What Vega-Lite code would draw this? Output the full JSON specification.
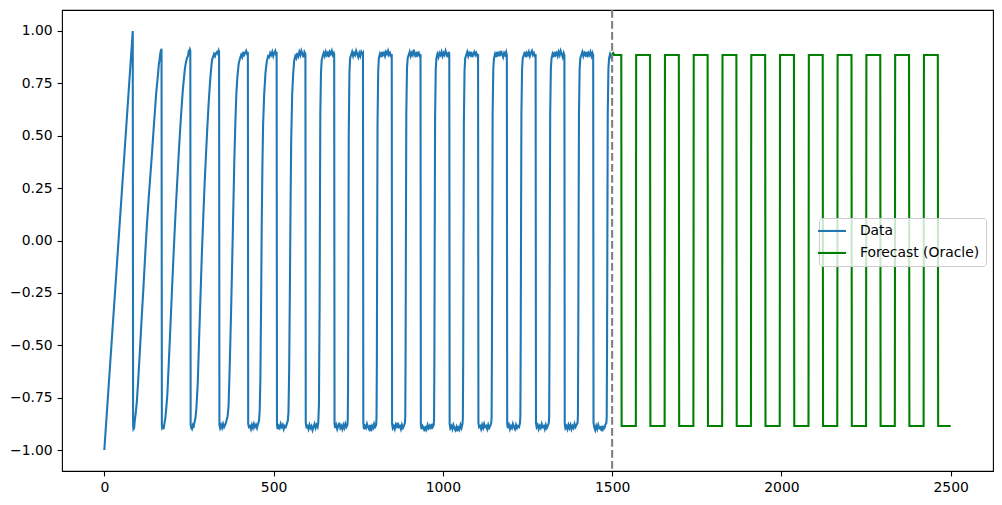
{
"$schema":"https://vega.github.io/schema/vega-lite/v6.json",
"width":931,"height":461,
"autosize":{"type":"none"},
"padding":{"left":62,"top":10,"right":9,"bottom":34},
"config":{"font":"DejaVu Sans","view":{"stroke":"#000","strokeWidth":1.1},
"axis":{"grid":false,"domain":false,"title":null,"tickColor":"#000","tickWidth":1.1,"tickSize":4.9,"labelPadding":4.9,"labelFontSize":13.9,"labelColor":"#000","labelFont":"DejaVu Sans"}},
"datasets":{
"data":[
{"x":0,"y":-1},{"x":84,"y":1},
{"x":85,"y":-0.88},{"x":86,"y":-0.9},{"x":88,"y":-0.895},{"x":90,"y":-0.86},{"x":93,"y":-0.82},{"x":96,"y":-0.77},{"x":100,"y":-0.67},{"x":105,"y":-0.53},{"x":110,"y":-0.38},{"x":115,"y":-0.24},{"x":121,"y":-0.06},{"x":126,"y":0.08},{"x":131,"y":0.2},{"x":136,"y":0.31},{"x":141,"y":0.42},{"x":146,"y":0.54},{"x":150,"y":0.63},{"x":153,"y":0.7},{"x":156,"y":0.75},{"x":159,"y":0.8},{"x":161,"y":0.84},{"x":163,"y":0.86},{"x":165,"y":0.89},{"x":167,"y":0.905},{"x":168,"y":0.91},{"x":169,"y":0.915},
{"x":170,"y":-0.88},{"x":171,"y":-0.895},{"x":173,"y":-0.89},{"x":175,"y":-0.9},{"x":177,"y":-0.88},{"x":180,"y":-0.85},{"x":183,"y":-0.8},{"x":186,"y":-0.74},{"x":190,"y":-0.6},{"x":195,"y":-0.42},{"x":200,"y":-0.23},{"x":205,"y":-0.05},{"x":210,"y":0.12},{"x":215,"y":0.27},{"x":220,"y":0.42},{"x":224,"y":0.53},{"x":228,"y":0.63},{"x":232,"y":0.72},{"x":235,"y":0.77},{"x":238,"y":0.82},{"x":241,"y":0.85},{"x":244,"y":0.87},{"x":247,"y":0.88},{"x":249,"y":0.9},{"x":251,"y":0.895},{"x":253,"y":0.91},{"x":254,"y":0.905},
{"x":255,"y":-0.88},{"x":257,"y":-0.895},{"x":259,"y":-0.9},{"x":261,"y":-0.885},{"x":263,"y":-0.895},{"x":266,"y":-0.87},{"x":269,"y":-0.85},{"x":272,"y":-0.8},{"x":276,"y":-0.68},{"x":280,"y":-0.47},{"x":284,"y":-0.27},{"x":288,"y":-0.07},{"x":292,"y":0.1},{"x":296,"y":0.26},{"x":300,"y":0.4},{"x":304,"y":0.53},{"x":308,"y":0.65},{"x":312,"y":0.75},{"x":315,"y":0.81},{"x":318,"y":0.86},{"x":321,"y":0.875},{"x":324,"y":0.89},{"x":327,"y":0.88},{"x":330,"y":0.895},{"x":333,"y":0.9},{"x":336,"y":0.89},{"x":338,"y":0.905},{"x":339,"y":0.9},
{"x":340,"y":-0.88},{"x":342,"y":-0.895},{"x":345,"y":-0.88},{"x":348,"y":-0.895},{"x":351,"y":-0.875},{"x":354,"y":-0.89},{"x":357,"y":-0.88},{"x":360,"y":-0.865},{"x":364,"y":-0.84},{"x":367,"y":-0.79},{"x":369,"y":-0.68},{"x":372,"y":-0.5},{"x":375,"y":-0.3},{"x":378,"y":-0.08},{"x":381,"y":0.15},{"x":384,"y":0.38},{"x":387,"y":0.56},{"x":390,"y":0.7},{"x":393,"y":0.78},{"x":397,"y":0.845},{"x":401,"y":0.87},{"x":404,"y":0.885},{"x":407,"y":0.875},{"x":410,"y":0.9},{"x":413,"y":0.885},{"x":416,"y":0.895},{"x":419,"y":0.905},{"x":422,"y":0.89},{"x":424,"y":0.9},
{"x":425,"y":-0.875},{"x":427,"y":-0.89},{"x":430,"y":-0.885},{"x":433,"y":-0.9},{"x":436,"y":-0.88},{"x":439,"y":-0.895},{"x":442,"y":-0.875},{"x":445,"y":-0.89},{"x":448,"y":-0.88},{"x":451,"y":-0.895},{"x":454,"y":-0.875},{"x":457,"y":-0.86},{"x":459,"y":-0.81},{"x":461,"y":-0.66},{"x":463,"y":-0.32},{"x":465,"y":0.08},{"x":467,"y":0.36},{"x":469,"y":0.55},{"x":472,"y":0.69},{"x":476,"y":0.8},{"x":480,"y":0.855},{"x":484,"y":0.88},{"x":487,"y":0.875},{"x":490,"y":0.895},{"x":493,"y":0.885},{"x":496,"y":0.9},{"x":499,"y":0.88},{"x":502,"y":0.895},{"x":505,"y":0.905},{"x":507,"y":0.89},{"x":509,"y":0.9},
{"x":510,"y":-0.88},{"x":512,"y":-0.9},{"x":515,"y":-0.885},{"x":518,"y":-0.895},{"x":521,"y":-0.875},{"x":524,"y":-0.89},{"x":527,"y":-0.88},{"x":530,"y":-0.9},{"x":533,"y":-0.885},{"x":536,"y":-0.89},{"x":539,"y":-0.875},{"x":542,"y":-0.86},{"x":544,"y":-0.82},{"x":546,"y":-0.62},{"x":548,"y":-0.25},{"x":550,"y":0.15},{"x":552,"y":0.48},{"x":555,"y":0.7},{"x":558,"y":0.8},{"x":561,"y":0.86},{"x":564,"y":0.88},{"x":567,"y":0.87},{"x":570,"y":0.895},{"x":573,"y":0.88},{"x":576,"y":0.9},{"x":579,"y":0.885},{"x":582,"y":0.905},{"x":585,"y":0.89},{"x":588,"y":0.875},{"x":591,"y":0.9},{"x":594,"y":0.89},
{"x":595,"y":-0.87},{"x":597,"y":-0.89},{"x":600,"y":-0.885},{"x":603,"y":-0.9},{"x":606,"y":-0.88},{"x":609,"y":-0.895},{"x":612,"y":-0.885},{"x":615,"y":-0.905},{"x":618,"y":-0.89},{"x":621,"y":-0.875},{"x":624,"y":-0.895},{"x":627,"y":-0.88},{"x":630,"y":-0.89},{"x":632,"y":-0.87},{"x":634,"y":-0.78},{"x":636,"y":-0.3},{"x":637,"y":0.2},{"x":638,"y":0.6},{"x":640,"y":0.8},{"x":642,"y":0.86},{"x":645,"y":0.88},{"x":648,"y":0.895},{"x":651,"y":0.88},{"x":654,"y":0.9},{"x":657,"y":0.885},{"x":660,"y":0.895},{"x":663,"y":0.875},{"x":666,"y":0.9},{"x":669,"y":0.89},{"x":672,"y":0.905},{"x":675,"y":0.885},{"x":678,"y":0.895},{"x":679,"y":0.89},
{"x":680,"y":-0.875},{"x":682,"y":-0.895},{"x":685,"y":-0.88},{"x":688,"y":-0.9},{"x":691,"y":-0.885},{"x":694,"y":-0.87},{"x":697,"y":-0.895},{"x":700,"y":-0.885},{"x":703,"y":-0.9},{"x":706,"y":-0.88},{"x":709,"y":-0.895},{"x":712,"y":-0.875},{"x":715,"y":-0.89},{"x":718,"y":-0.88},{"x":719,"y":-0.86},{"x":720,"y":-0.7},{"x":721,"y":-0.1},{"x":722,"y":0.5},{"x":724,"y":0.8},{"x":726,"y":0.87},{"x":729,"y":0.885},{"x":732,"y":0.9},{"x":735,"y":0.88},{"x":738,"y":0.895},{"x":741,"y":0.885},{"x":744,"y":0.905},{"x":747,"y":0.89},{"x":750,"y":0.875},{"x":753,"y":0.895},{"x":756,"y":0.88},{"x":759,"y":0.9},{"x":762,"y":0.89},{"x":764,"y":0.895},
{"x":765,"y":-0.87},{"x":767,"y":-0.9},{"x":770,"y":-0.885},{"x":773,"y":-0.895},{"x":776,"y":-0.875},{"x":779,"y":-0.89},{"x":782,"y":-0.9},{"x":785,"y":-0.88},{"x":788,"y":-0.91},{"x":791,"y":-0.885},{"x":794,"y":-0.895},{"x":797,"y":-0.875},{"x":800,"y":-0.89},{"x":803,"y":-0.88},{"x":804,"y":-0.85},{"x":805,"y":-0.6},{"x":806,"y":0.0},{"x":807,"y":0.55},{"x":809,"y":0.81},{"x":811,"y":0.87},{"x":814,"y":0.89},{"x":817,"y":0.875},{"x":820,"y":0.9},{"x":823,"y":0.885},{"x":826,"y":0.895},{"x":829,"y":0.88},{"x":832,"y":0.9},{"x":835,"y":0.89},{"x":838,"y":0.905},{"x":841,"y":0.885},{"x":844,"y":0.895},{"x":847,"y":0.88},{"x":849,"y":0.89},
{"x":850,"y":-0.875},{"x":852,"y":-0.895},{"x":855,"y":-0.885},{"x":858,"y":-0.9},{"x":861,"y":-0.88},{"x":864,"y":-0.895},{"x":867,"y":-0.87},{"x":870,"y":-0.89},{"x":873,"y":-0.885},{"x":876,"y":-0.9},{"x":879,"y":-0.88},{"x":882,"y":-0.895},{"x":885,"y":-0.885},{"x":888,"y":-0.87},{"x":889,"y":-0.84},{"x":890,"y":-0.5},{"x":891,"y":0.1},{"x":892,"y":0.6},{"x":894,"y":0.82},{"x":896,"y":0.87},{"x":899,"y":0.885},{"x":902,"y":0.9},{"x":905,"y":0.88},{"x":908,"y":0.895},{"x":911,"y":0.885},{"x":914,"y":0.91},{"x":917,"y":0.89},{"x":920,"y":0.875},{"x":923,"y":0.9},{"x":926,"y":0.885},{"x":929,"y":0.895},{"x":932,"y":0.88},{"x":934,"y":0.89},
{"x":935,"y":-0.88},{"x":937,"y":-0.9},{"x":940,"y":-0.885},{"x":943,"y":-0.895},{"x":946,"y":-0.91},{"x":949,"y":-0.885},{"x":952,"y":-0.9},{"x":955,"y":-0.88},{"x":958,"y":-0.895},{"x":961,"y":-0.885},{"x":964,"y":-0.9},{"x":967,"y":-0.875},{"x":970,"y":-0.89},{"x":973,"y":-0.88},{"x":974,"y":-0.85},{"x":975,"y":-0.55},{"x":976,"y":0.05},{"x":977,"y":0.58},{"x":979,"y":0.82},{"x":981,"y":0.87},{"x":984,"y":0.89},{"x":987,"y":0.875},{"x":990,"y":0.895},{"x":993,"y":0.885},{"x":996,"y":0.9},{"x":999,"y":0.88},{"x":1002,"y":0.895},{"x":1005,"y":0.885},{"x":1008,"y":0.905},{"x":1011,"y":0.89},{"x":1014,"y":0.875},{"x":1017,"y":0.9},{"x":1019,"y":0.89},
{"x":1020,"y":-0.875},{"x":1022,"y":-0.895},{"x":1025,"y":-0.885},{"x":1028,"y":-0.9},{"x":1031,"y":-0.88},{"x":1034,"y":-0.895},{"x":1037,"y":-0.905},{"x":1040,"y":-0.89},{"x":1043,"y":-0.91},{"x":1046,"y":-0.885},{"x":1049,"y":-0.9},{"x":1052,"y":-0.88},{"x":1055,"y":-0.895},{"x":1058,"y":-0.875},{"x":1059,"y":-0.85},{"x":1060,"y":-0.6},{"x":1061,"y":0.0},{"x":1062,"y":0.55},{"x":1064,"y":0.81},{"x":1066,"y":0.87},{"x":1069,"y":0.885},{"x":1072,"y":0.9},{"x":1075,"y":0.88},{"x":1078,"y":0.895},{"x":1081,"y":0.885},{"x":1084,"y":0.9},{"x":1087,"y":0.875},{"x":1090,"y":0.89},{"x":1093,"y":0.9},{"x":1096,"y":0.885},{"x":1099,"y":0.895},{"x":1102,"y":0.88},{"x":1104,"y":0.89},
{"x":1105,"y":-0.87},{"x":1107,"y":-0.89},{"x":1110,"y":-0.885},{"x":1113,"y":-0.9},{"x":1116,"y":-0.88},{"x":1119,"y":-0.895},{"x":1122,"y":-0.875},{"x":1125,"y":-0.89},{"x":1128,"y":-0.885},{"x":1131,"y":-0.9},{"x":1134,"y":-0.88},{"x":1137,"y":-0.895},{"x":1140,"y":-0.885},{"x":1143,"y":-0.87},{"x":1144,"y":-0.84},{"x":1145,"y":-0.5},{"x":1146,"y":0.05},{"x":1147,"y":0.6},{"x":1149,"y":0.82},{"x":1151,"y":0.87},{"x":1154,"y":0.89},{"x":1157,"y":0.875},{"x":1160,"y":0.9},{"x":1163,"y":0.885},{"x":1166,"y":0.895},{"x":1169,"y":0.88},{"x":1172,"y":0.905},{"x":1175,"y":0.89},{"x":1178,"y":0.875},{"x":1181,"y":0.895},{"x":1184,"y":0.885},{"x":1187,"y":0.9},{"x":1189,"y":0.885},
{"x":1190,"y":-0.875},{"x":1192,"y":-0.895},{"x":1195,"y":-0.88},{"x":1198,"y":-0.9},{"x":1201,"y":-0.885},{"x":1204,"y":-0.895},{"x":1207,"y":-0.875},{"x":1210,"y":-0.89},{"x":1213,"y":-0.9},{"x":1216,"y":-0.88},{"x":1219,"y":-0.895},{"x":1222,"y":-0.885},{"x":1225,"y":-0.89},{"x":1228,"y":-0.87},{"x":1229,"y":-0.83},{"x":1230,"y":-0.45},{"x":1231,"y":0.1},{"x":1232,"y":0.6},{"x":1234,"y":0.82},{"x":1236,"y":0.87},{"x":1239,"y":0.885},{"x":1242,"y":0.9},{"x":1245,"y":0.875},{"x":1248,"y":0.895},{"x":1251,"y":0.885},{"x":1254,"y":0.9},{"x":1257,"y":0.88},{"x":1260,"y":0.895},{"x":1263,"y":0.905},{"x":1266,"y":0.885},{"x":1269,"y":0.895},{"x":1272,"y":0.88},{"x":1274,"y":0.89},
{"x":1275,"y":-0.87},{"x":1277,"y":-0.89},{"x":1280,"y":-0.88},{"x":1283,"y":-0.9},{"x":1286,"y":-0.885},{"x":1289,"y":-0.895},{"x":1292,"y":-0.875},{"x":1295,"y":-0.89},{"x":1298,"y":-0.885},{"x":1301,"y":-0.9},{"x":1304,"y":-0.88},{"x":1307,"y":-0.895},{"x":1310,"y":-0.885},{"x":1313,"y":-0.87},{"x":1314,"y":-0.84},{"x":1315,"y":-0.5},{"x":1316,"y":0.05},{"x":1317,"y":0.6},{"x":1319,"y":0.82},{"x":1321,"y":0.87},{"x":1324,"y":0.89},{"x":1327,"y":0.875},{"x":1330,"y":0.9},{"x":1333,"y":0.885},{"x":1336,"y":0.895},{"x":1339,"y":0.88},{"x":1342,"y":0.9},{"x":1345,"y":0.885},{"x":1348,"y":0.905},{"x":1351,"y":0.89},{"x":1354,"y":0.875},{"x":1357,"y":0.895},{"x":1359,"y":0.885},
{"x":1360,"y":-0.875},{"x":1362,"y":-0.895},{"x":1365,"y":-0.885},{"x":1368,"y":-0.9},{"x":1371,"y":-0.88},{"x":1374,"y":-0.895},{"x":1377,"y":-0.88},{"x":1380,"y":-0.9},{"x":1383,"y":-0.885},{"x":1386,"y":-0.895},{"x":1389,"y":-0.875},{"x":1392,"y":-0.89},{"x":1395,"y":-0.88},{"x":1398,"y":-0.87},{"x":1399,"y":-0.83},{"x":1400,"y":-0.45},{"x":1401,"y":0.1},{"x":1402,"y":0.6},{"x":1404,"y":0.82},{"x":1406,"y":0.87},{"x":1409,"y":0.885},{"x":1412,"y":0.9},{"x":1415,"y":0.88},{"x":1418,"y":0.895},{"x":1421,"y":0.885},{"x":1424,"y":0.9},{"x":1427,"y":0.875},{"x":1430,"y":0.895},{"x":1433,"y":0.885},{"x":1436,"y":0.9},{"x":1439,"y":0.88},{"x":1442,"y":0.895},{"x":1444,"y":0.885},
{"x":1445,"y":-0.87},{"x":1447,"y":-0.89},{"x":1450,"y":-0.905},{"x":1453,"y":-0.885},{"x":1456,"y":-0.9},{"x":1459,"y":-0.88},{"x":1462,"y":-0.895},{"x":1465,"y":-0.9},{"x":1468,"y":-0.885},{"x":1471,"y":-0.91},{"x":1474,"y":-0.89},{"x":1477,"y":-0.895},{"x":1480,"y":-0.88},{"x":1483,"y":-0.87},{"x":1484,"y":-0.84},{"x":1485,"y":-0.5},{"x":1486,"y":0.05},{"x":1487,"y":0.6},{"x":1489,"y":0.82},{"x":1491,"y":0.87},{"x":1494,"y":0.89},{"x":1497,"y":0.875},{"x":1500,"y":0.89}
],
"fc":[
{"x":1500,"y":0.89},{"x":1503,"y":0.895},{"x":1506,"y":0.885},{"x":1527,"y":0.885},{"x":1528,"y":-0.885},
{"x":1570,"y":-0.885},{"x":1571,"y":0.885},{"x":1612,"y":0.885},{"x":1613,"y":-0.885},
{"x":1655,"y":-0.885},{"x":1656,"y":0.885},{"x":1697,"y":0.885},{"x":1698,"y":-0.885},
{"x":1740,"y":-0.885},{"x":1741,"y":0.885},{"x":1782,"y":0.885},{"x":1783,"y":-0.885},
{"x":1825,"y":-0.885},{"x":1826,"y":0.885},{"x":1867,"y":0.885},{"x":1868,"y":-0.885},
{"x":1910,"y":-0.885},{"x":1911,"y":0.885},{"x":1952,"y":0.885},{"x":1953,"y":-0.885},
{"x":1995,"y":-0.885},{"x":1996,"y":0.885},{"x":2037,"y":0.885},{"x":2038,"y":-0.885},
{"x":2080,"y":-0.885},{"x":2081,"y":0.885},{"x":2122,"y":0.885},{"x":2123,"y":-0.885},
{"x":2165,"y":-0.885},{"x":2166,"y":0.885},{"x":2207,"y":0.885},{"x":2208,"y":-0.885},
{"x":2250,"y":-0.885},{"x":2251,"y":0.885},{"x":2292,"y":0.885},{"x":2293,"y":-0.885},
{"x":2335,"y":-0.885},{"x":2336,"y":0.885},{"x":2377,"y":0.885},{"x":2378,"y":-0.885},
{"x":2420,"y":-0.885},{"x":2421,"y":0.885},{"x":2462,"y":0.885},{"x":2463,"y":-0.885},
{"x":2500,"y":-0.885}
]},
"layer":[
{"data":{"name":"data"},"mark":{"type":"line","strokeWidth":2.08},
"encoding":{
"x":{"field":"x","type":"quantitative","scale":{"domain":[-125,2625],"nice":false,"zero":false},"axis":{"values":[0,500,1000,1500,2000,2500],"format":"d"}},
"y":{"field":"y","type":"quantitative","scale":{"domain":[-1.1,1.1],"nice":false,"zero":false},"axis":{"values":[-1,-0.75,-0.5,-0.25,0,0.25,0.5,0.75,1],"format":".2f"}},
"color":{"datum":"Data","type":"nominal","scale":{"domain":["Data","Forecast (Oracle)"],"range":["#1f77b4","#008000"]},
"legend":{"orient":"none","legendX":757,"legendY":208,"title":null,"symbolType":"M-2.8,0H2.8","symbolSize":100,"symbolStrokeWidth":2.08,"labelFontSize":13.9,"labelFont":"DejaVu Sans","labelColor":"#000","labelOffset":21,"fillColor":"rgba(255,255,255,0.8)","strokeColor":"#cccccc","cornerRadius":3,"padding":6,"rowPadding":7}}}},
{"data":{"values":[{}]},"mark":{"type":"rule","stroke":"#808080","strokeWidth":2.08,"strokeDash":[7.7,3.3]},"encoding":{"x":{"datum":1500}}},
{"data":{"name":"fc"},"mark":{"type":"line","strokeWidth":2.08},
"encoding":{"x":{"field":"x","type":"quantitative"},"y":{"field":"y","type":"quantitative"},"color":{"datum":"Forecast (Oracle)","type":"nominal"}}}
]
}
